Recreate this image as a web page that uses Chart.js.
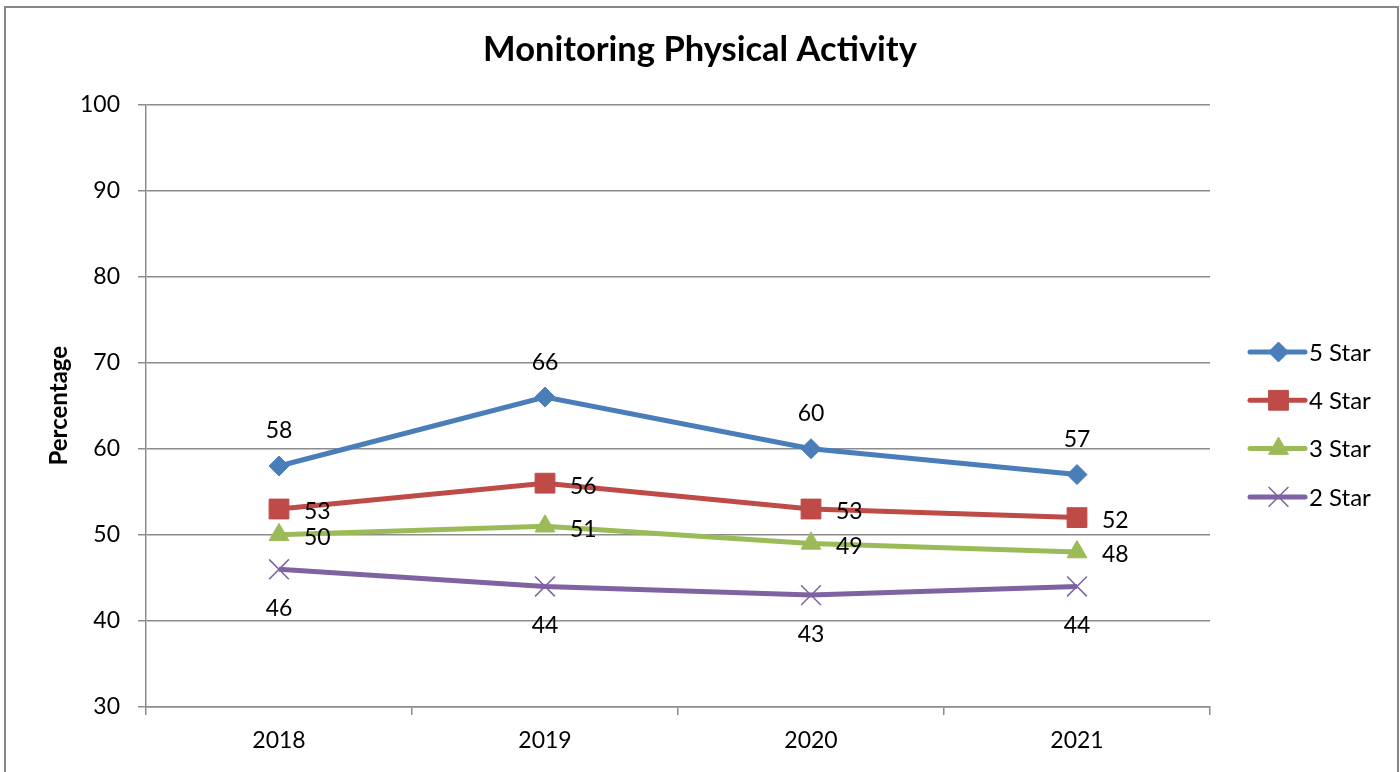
<!DOCTYPE html>
<html>
<head>
<meta charset="utf-8">
<script src="https://cdn.jsdelivr.net/npm/chart.js@4/dist/chart.umd.min.js"></script>
<style>
  html, body { margin: 0; padding: 0; background: #fff; }
  #wrap { width: 1400px; height: 772px; position: relative; }
</style>
</head>
<body>
<div id="wrap"><canvas id="c" width="1400" height="772"></canvas></div>
<script>
const categories = ['2018', '2019', '2020', '2021'];
const star5 = [58, 66, 60, 57];
const star4 = [53, 56, 53, 52];
const star3 = [50, 51, 49, 48];
const star2 = [46, 44, 43, 44];
const seriesNames = ['5 Star', '4 Star', '3 Star', '2 Star'];
const yTicks = [30, 40, 50, 60, 70, 80, 90, 100];

const FONT = 'Lato, "Open Sans", sans-serif';
const GRID = '#8c8c8c';

const styles = [
  { color: '#4A7EBB', point: 'rectRot', radius: 10, pbw: 1, label: 'top' },
  { color: '#BE4B48', point: 'rect', radius: 14, pbw: 1, label: 'right' },
  { color: '#9BBB59', point: 'triangle', radius: 11.5, pbw: 1, label: 'right' },
  { color: '#7F62A1', point: 'crossRot', radius: 14, pbw: 1.5, label: 'bottom' }
];
const values = [star5, star4, star3, star2];

const datasets = values.map((v, i) => ({
  label: seriesNames[i],
  data: v,
  borderColor: styles[i].color,
  backgroundColor: styles[i].color,
  borderWidth: 5,
  pointStyle: styles[i].point,
  pointRadius: styles[i].radius,
  pointHoverRadius: styles[i].radius,
  pointBorderWidth: styles[i].pbw,
  pointBackgroundColor: styles[i].color,
  pointBorderColor: styles[i].color,
  tension: 0,
  labelPos: styles[i].label
}));

const framePlugin = {
  id: 'frame',
  beforeDraw(chart) {
    const ctx = chart.ctx;
    ctx.save();
    ctx.fillStyle = '#fff';
    ctx.fillRect(0, 0, chart.width, chart.height);
    ctx.strokeStyle = '#868686';
    ctx.lineWidth = 2;
    ctx.strokeRect(5, 7, 1393, 800);
    ctx.restore();
  }
};

const dataLabelPlugin = {
  id: 'dataLabels',
  afterDatasetsDraw(chart) {
    const ctx = chart.ctx;
    ctx.save();
    ctx.font = '23px ' + FONT;
    ctx.fillStyle = '#000';
    chart.data.datasets.forEach((ds, di) => {
      const meta = chart.getDatasetMeta(di);
      meta.data.forEach((pt, i) => {
        const txt = String(ds.data[i]);
        let x = pt.x, y = pt.y;
        if (ds.labelPos === 'top') { ctx.textAlign = 'center'; ctx.textBaseline = 'middle'; y -= 35; }
        else if (ds.labelPos === 'bottom') { ctx.textAlign = 'center'; ctx.textBaseline = 'middle'; y += 39; }
        else { ctx.textAlign = 'left'; ctx.textBaseline = 'middle'; x += 25; y += 3; }
        ctx.fillText(txt, x, y);
      });
    });
    ctx.restore();
  }
};

const legendPlugin = {
  id: 'customLegend',
  afterDraw(chart) {
    const ctx = chart.ctx;
    const x0 = 1250, x1 = 1305, tx = 1309;
    const yStart = 352, gap = 48.3;
    ctx.save();
    chart.data.datasets.forEach((ds, i) => {
      const y = yStart + i * gap;
      ctx.strokeStyle = ds.borderColor;
      ctx.lineWidth = 5;
      ctx.lineCap = 'round';
      ctx.beginPath();
      ctx.moveTo(x0, y);
      ctx.lineTo(x1, y);
      ctx.stroke();
      ctx.fillStyle = ds.pointBackgroundColor;
      ctx.strokeStyle = ds.pointBorderColor;
      ctx.lineWidth = ds.pointBorderWidth;
      ctx.lineCap = 'butt';
      Chart.helpers.drawPoint(ctx, { pointStyle: ds.pointStyle, radius: ds.pointRadius, rotation: 0, borderWidth: ds.pointBorderWidth }, (x0 + x1) / 2 + 1, y);
      ctx.fillStyle = '#000';
      ctx.font = '24px ' + FONT;
      ctx.textAlign = 'left';
      ctx.textBaseline = 'middle';
      ctx.fillText(ds.label, tx, y + 1);
    });
    ctx.restore();
  }
};

new Chart(document.getElementById('c'), {
  type: 'line',
  data: { labels: categories, datasets },
  options: {
    responsive: false,
    animation: false,
    events: [],
    layout: { padding: { left: 0, right: 0, top: 10, bottom: 19 } },
    plugins: {
      legend: { display: false },
      tooltip: { enabled: false },
      title: {
        display: true,
        text: 'Monitoring Physical Activity',
        color: '#000',
        font: { family: FONT, size: 34.5, weight: 'bold' },
        padding: { top: 19, bottom: 34 }
      }
    },
    scales: {
      x: {
        type: 'category',
        offset: true,
        grid: { offset: true, drawOnChartArea: false, drawTicks: true, tickLength: 8, color: GRID, lineWidth: 1.5 },
        border: { color: GRID, width: 1.5 },
        ticks: { color: '#000', font: { family: FONT, size: 23 }, padding: 12, maxRotation: 0 },
        afterFit(s) { s.height = 46; }
      },
      y: {
        min: 30, max: 100,
        afterBuildTicks(s) { s.ticks = yTicks.map(v => ({ value: v })); },
        grid: { color: GRID, lineWidth: 1.5, tickLength: 8 },
        border: { color: GRID, width: 1.5 },
        ticks: { color: '#000', font: { family: FONT, size: 23 }, padding: 18 },
        title: { display: true, text: 'Percentage', color: '#000', font: { family: FONT, size: 24, weight: 'bold' }, padding: { top: 45, bottom: 0 } },
        afterFit(s) { s.width = 146; }
      },
      spacer: {
        type: 'linear',
        position: 'right',
        display: true,
        grid: { display: false, drawTicks: false },
        border: { display: false },
        ticks: { display: false },
        afterFit(s) { s.width = 190; }
      }
    }
  },
  plugins: [framePlugin, dataLabelPlugin, legendPlugin]
});
</script>
</body>
</html>
